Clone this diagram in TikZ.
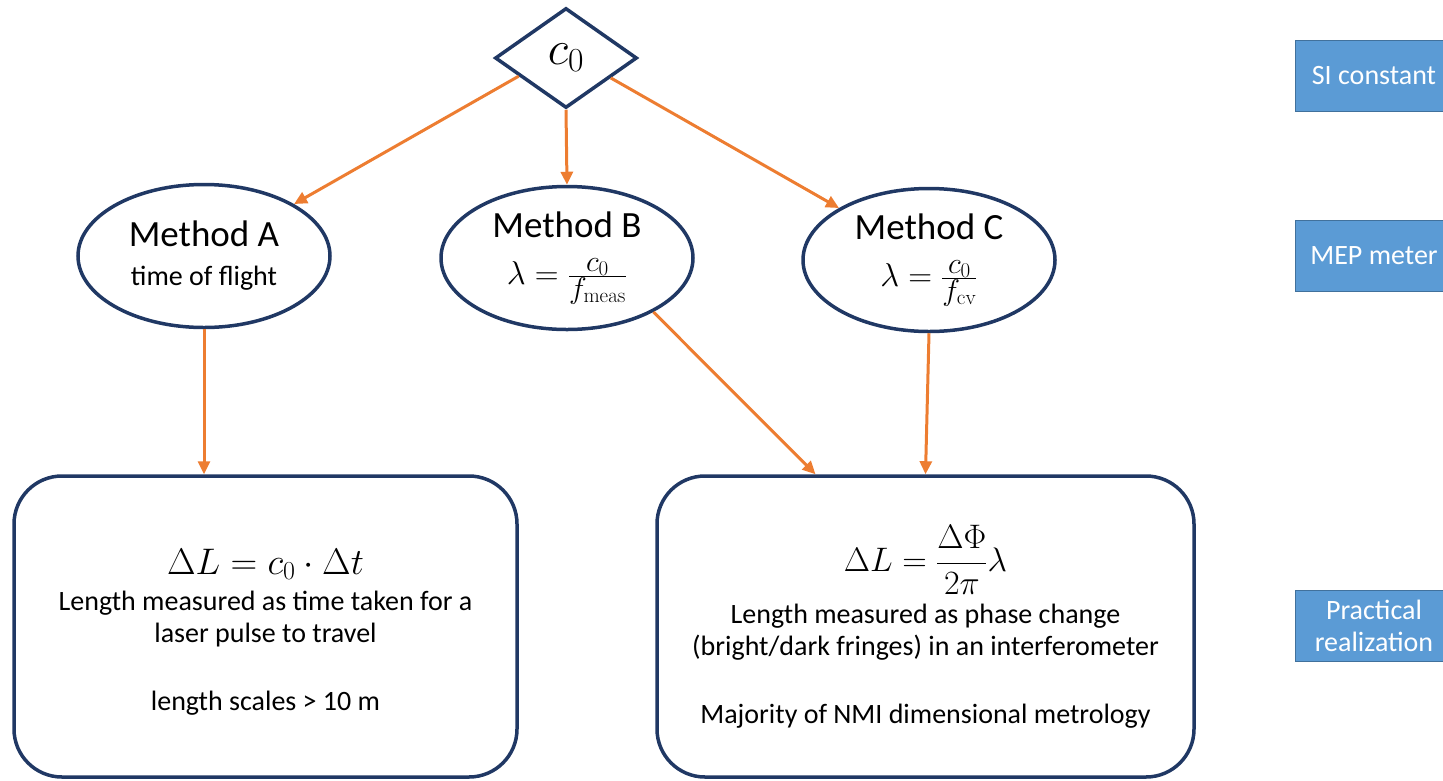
\RequirePackage{fix-cm}
\documentclass[tikz,border=0pt]{standalone}
\usepackage[no-math]{fontspec}
\setmainfont{Carlito}
\usetikzlibrary{shapes.geometric,arrows.meta}
\definecolor{navy}{HTML}{203864}
\definecolor{arrowc}{HTML}{ED7D31}
\definecolor{tagfill}{HTML}{5B9BD5}
\definecolor{tagline}{HTML}{41719C}
\newcommand{\fsz}[2]{\fontsize{#1}{#2}\selectfont}
\newcommand{\wavefrac}[2]{\frac{\hbox{\fsz{30}{32}$#1$}}{\hbox{\fsz{30}{32}$#2$}}}

\begin{document}
\begin{tikzpicture}[x=1pt,y=-1pt,
	method/.style={ellipse,draw=navy,line width=3.5pt,minimum width=252pt,minimum height=143pt,inner sep=0pt,align=center,font=\fsz{28}{37}},
	result/.style={draw=navy,line width=3.5pt,rounded corners=48pt,minimum height=301pt,inner sep=0pt,align=center,font=\fsz{28}{32}},
	tag/.style={fill=tagfill,draw=tagline,line width=1pt,text=white,minimum width=158pt,minimum height=71pt,align=center,font=\fsz{28}{32}},
	flow/.style={draw=arrowc,line width=3pt,-{Triangle[length=13pt,width=12pt]}}]
	\useasboundingbox (0,0) rectangle (1443,780);
	\clip (0,0) rectangle (1443,780);

	\node[diamond,draw=navy,line width=3.5pt,aspect=1.42,minimum width=142pt,minimum height=100pt,inner sep=0pt] (c0) at (566,58) {\fsz{48}{50}$c_0$};

	\node[method] (methA) at (204,256) {{\fsz{37}{40}Method A}\\[2pt]time of flight};
	\node[method] (methB) at (567,258) {{\fsz{37}{40}Method B}\\[10pt]{\fsz{33}{36}$\lambda=\wavefrac{c_0}{f_{\mathrm{meas}}}$}};
	\node[method] (methC) at (929,260) {{\fsz{37}{40}Method C}\\[10pt]{\fsz{33}{36}$\lambda=\wavefrac{c_0}{f_{\mathrm{cv}}}$}};

	\node[result,minimum width=503pt] (boxA) at (265.5,626.5) {{\fsz{37}{40}\rule{0pt}{36pt}$\Delta L=c_0\cdot\Delta t$}\\[4pt]Length measured as time taken for a\\laser pulse to travel\\[36pt]length scales > 10 m};
	\node[result,minimum width=537pt] (boxB) at (925.5,626.5) {{\fsz{34}{38}\rule{0pt}{44pt}$\displaystyle\Delta L=\frac{\Delta\Phi}{2\pi}\lambda$}\\[8pt]Length measured as phase change\\(bright/dark fringes) in an interferometer\\[36pt]Majority of NMI dimensional metrology};

	\foreach \y/\txt/\nm in {76/SI constant/si,256/MEP meter/mep,626/{Practical\\realization}/prac}{
		\node[tag] (\nm) at (1374,\y) {\txt};
	}

	\draw[flow] (c0.201) -- (methA.30);
	\draw[flow] (c0.south) -- (methB.north);
	\draw[flow] (c0.336) -- (methC.150);
	\draw[flow] (methA.south) -- (methA.south |- boxA.north);
	\draw[flow] (methB.-32) -- ([xshift=-110pt]boxB.north);
	\draw[flow] (methC.south) -- (boxB.north);
\end{tikzpicture}
\end{document}
